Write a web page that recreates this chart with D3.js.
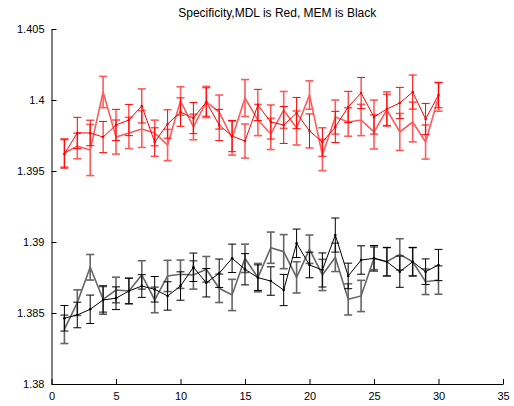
<!DOCTYPE html>
<html>
<head>
<meta charset="utf-8">
<script src="https://cdn.jsdelivr.net/npm/d3@7"></script>
<style>
  html, body { margin: 0; padding: 0; background: #fff; }
  svg text { font-family: "Liberation Sans", Arial, sans-serif; }
</style>
</head>
<body>
<svg id="chart" width="514" height="406"></svg>
<script>
const xValues = d3.range(1, 31);
const xTicks = [0, 5, 10, 15, 20, 25, 30, 35];
const yTicks = [1.38, 1.385, 1.39, 1.395, 1.4, 1.405];
const yTickLabels = ["1.38", "1.385", "1.39", "1.395", "1.4", "1.405"];
const title = "Specificity,MDL is Red, MEM is Black";

// MDL (red) series
const mdlA = [1.39627,1.39676,1.39648,1.40056,1.39739,1.39768,1.39796,1.39768,1.39683,1.39993,
              1.39810,1.39986,1.39915,1.39732,1.40014,1.39859,1.39761,1.39930,1.39803,1.40035,
              1.39613,1.39880,1.39845,1.39859,1.39775,1.39930,1.39775,1.39845,1.39704,1.40021];
const mdlAErr = [0.0010,0.0009,0.0018,0.0011,0.0012,0.0011,0.0013,0.0009,0.0011,0.0010,
                 0.0009,0.0011,0.0012,0.0012,0.0013,0.0011,0.0011,0.0013,0.0012,0.0010,
                 0.0011,0.0012,0.0010,0.0011,0.0012,0.0011,0.0013,0.0014,0.0012,0.0010];
const mdlB = [1.39620,1.39768,1.39768,1.39739,1.39824,1.39859,1.39958,1.39704,1.39831,1.39915,
              1.39873,1.39986,1.39824,1.39746,1.39711,1.39965,1.39845,1.39824,1.39908,1.39782,
              1.39704,1.39810,1.39951,1.40049,1.39880,1.39937,1.39979,1.40056,1.39866,1.40035];
const mdlBErr = [0.0010,0.0011,0.0009,0.0011,0.0011,0.0011,0.0012,0.0010,0.0010,0.0010,
                 0.0011,0.0010,0.0011,0.0011,0.0012,0.0011,0.0012,0.0013,0.0011,0.0012,
                 0.0010,0.0011,0.0011,0.0011,0.0012,0.0012,0.0011,0.0012,0.0011,0.0009];

// MEM (black) series
const memA = [1.38385,1.38573,1.38822,1.38596,1.38662,1.38655,1.38768,1.38592,1.38761,1.38773,
              1.38768,1.38808,1.38674,1.38627,1.38885,1.38749,1.38960,1.38932,1.38751,1.38949,
              1.38768,1.38892,1.38596,1.38620,1.38885,1.38861,1.38913,1.38861,1.38720,1.38732];
const memAErr = [0.0010,0.0009,0.0009,0.0009,0.0009,0.0009,0.0010,0.0009,0.0011,0.0010,
                 0.0010,0.0009,0.0010,0.0011,0.0010,0.0010,0.0011,0.0012,0.0011,0.0010,
                 0.0011,0.0010,0.0011,0.0011,0.0008,0.0010,0.0011,0.0010,0.0009,0.0010];
const memB = [1.38463,1.38486,1.38526,1.38592,1.38604,1.38655,1.38690,1.38667,1.38620,1.38690,
              1.38822,1.38713,1.38780,1.38885,1.38808,1.38749,1.38725,1.38662,1.38991,1.38838,
              1.38803,1.39049,1.38761,1.38873,1.38885,1.38861,1.38791,1.38861,1.38791,1.38838];
const memBErr = [0.0009,0.0009,0.0010,0.0010,0.0008,0.0009,0.0008,0.0009,0.0010,0.0010,
                 0.0010,0.0010,0.0010,0.0010,0.0011,0.0009,0.0010,0.0011,0.0010,0.0009,
                 0.0012,0.0012,0.0009,0.0010,0.0009,0.0010,0.0011,0.0010,0.0009,0.0011];

const series = [
  {values: mdlA, err: mdlAErr, color: "#ff5c5c", width: 1.6, dots: false},
  {values: mdlB, err: mdlBErr, color: "#ff0000", width: 1, dots: true},
  {values: memA, err: memAErr, color: "#666666", width: 1.6, dots: false},
  {values: memB, err: memBErr, color: "#000000", width: 1, dots: true}
];

const svg = d3.select("#chart");
const plotLeft = 51.5, plotRight = 503, plotTop = 29, plotBottom = 384;
const x = d3.scaleLinear().domain([0, 35]).range([plotLeft, plotRight]);
const y = d3.scaleLinear().domain([1.38, 1.405]).range([plotBottom, plotTop]);

// axes
const xAxis = d3.axisBottom(x).tickValues(xTicks).tickSizeInner(-5).tickSizeOuter(0).tickPadding(8);
const gx = svg.append("g").attr("transform", `translate(0,${plotBottom})`).call(xAxis);
const yAxis = d3.axisLeft(y).tickValues(yTicks).tickFormat((d, i) => yTickLabels[i]).tickSizeInner(-5).tickSizeOuter(0).tickPadding(7);
const gy = svg.append("g").attr("transform", `translate(${plotLeft},0)`).call(yAxis);
[gx, gy].forEach(g => {
  g.select(".domain").attr("stroke", "#000").attr("stroke-width", 1);
  g.selectAll(".tick line").attr("stroke", "#000");
  g.selectAll("text").attr("font-size", 11).attr("fill", "#000")
    .attr("font-family", "'Liberation Sans', Arial, sans-serif");
});

// title
svg.append("text").attr("x", (plotLeft + plotRight) / 2).attr("y", 17)
  .attr("text-anchor", "middle").attr("font-size", 12).attr("fill", "#000").text(title);

const line = d3.line().x((d, i) => x(xValues[i])).y(d => y(d));
const capHalf = 4;

series.forEach(s => {
  const g = svg.append("g").attr("stroke", s.color).attr("fill", "none").attr("stroke-width", s.width);
  s.values.forEach((v, i) => {
    const cx = x(xValues[i]);
    const y1 = y(v + s.err[i]), y2 = y(v - s.err[i]);
    g.append("line").attr("x1", cx).attr("x2", cx).attr("y1", y1).attr("y2", y2);
    g.append("line").attr("x1", cx - capHalf).attr("x2", cx + capHalf).attr("y1", y1).attr("y2", y1);
    g.append("line").attr("x1", cx - capHalf).attr("x2", cx + capHalf).attr("y1", y2).attr("y2", y2);
  });
  g.append("path").attr("d", line(s.values));
  if (s.dots) {
    s.values.forEach((v, i) => {
      svg.append("circle").attr("cx", x(xValues[i])).attr("cy", y(v)).attr("r", 1.3).attr("fill", s.color);
    });
  }
});
</script>
</body>
</html>
